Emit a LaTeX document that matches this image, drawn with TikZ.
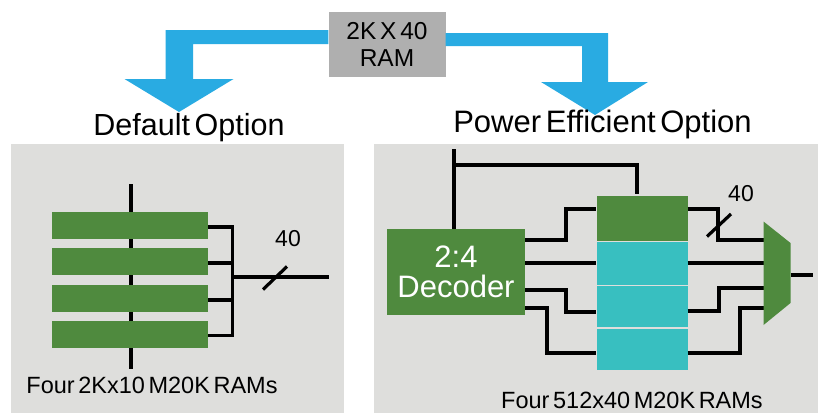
\documentclass[tikz,border=0pt]{standalone}
\usepackage{fontspec}
\setmainfont[WordSpace=0.55]{Liberation Sans}
\definecolor{panel}{HTML}{DEDEDC}
\definecolor{ramgreen}{HTML}{4F8A3E}
\definecolor{ramteal}{HTML}{38BFC0}
\definecolor{flow}{HTML}{29ABE2}
\definecolor{boxgray}{HTML}{AFAFAF}
\tikzset{
  panelbox/.style={fill=panel,draw=none,inner sep=0pt,anchor=north west},
  block/.style={fill=ramgreen,draw=none,inner sep=0pt},
  tealblock/.style={fill=ramteal,draw=none,inner sep=0pt},
  wire/.style={line width=3.2pt,black,line join=miter},
  lbl/.style={inner sep=0pt,text=black,align=center},
}
\begin{document}
\begin{tikzpicture}[x=1pt,y=-1pt]
\useasboundingbox (0,0) rectangle (818,413);
% panels
\node[panelbox,minimum width=333pt,minimum height=269pt] (pl) at (11,144) {};
\node[panelbox,minimum width=444pt,minimum height=269pt] (pr) at (374,144) {};
% source box and block arrows
\node[fill=boxgray,inner sep=0pt,minimum width=117pt,minimum height=65pt,font=\fontsize{24.5}{27}\selectfont,align=center] (src) at (387,44.5) {2K X 40\\RAM};
\fill[flow] (src.west |- 0,30) -- (165.5,30) -- (165.5,79) -- (124.5,79) -- (179,112) -- (233.5,79) -- (193,79) -- (193,44) -- (src.west |- 0,44) -- cycle;
\fill[flow] (src.east |- 0,33) -- (608,33) -- (608,82) -- (648,82) -- (595,115) -- (541,82) -- (582,82) -- (582,46) -- (src.east |- 0,46) -- cycle;
\node[lbl,font=\fontsize{30.5}{32}\selectfont] (tl) at (189,127.5) {Default Option};
\node[lbl,font=\fontsize{31}{32}\selectfont] (tr) at (602.5,124.5) {Power Efficient Option};
% left diagram
\coordinate (ltop) at (131,184);
\coordinate (lbot) at (131,369);
\draw[wire] (ltop) -- (lbot);
\node[block,minimum width=156pt,minimum height=27pt] (b1) at (130,225.5) {};
\node[block,minimum width=156pt,minimum height=27pt] (b2) at (130,261.5) {};
\node[block,minimum width=156pt,minimum height=27pt] (b3) at (130,298) {};
\node[block,minimum width=156pt,minimum height=27pt] (b4) at (130,334.5) {};
\coordinate (lout) at (329,277);
\draw[wire] (b1.east |- 0,227) -| (232.5,335.5) -- (b4.east |- 0,335.5);
\draw[wire] (b2.east |- 0,263) -- (232.5,263);
\draw[wire] (b3.east |- 0,300) -- (232.5,300);
\draw[wire] (232.5,277) -- (lout);
\coordinate (ls1) at (263,289.5);
\coordinate (ls2) at (287,266.5);
\draw[wire] (ls1) -- (ls2);
\node[lbl,font=\fontsize{23}{24}\selectfont] (l40) at (288,238.5) {40};
\node[lbl,font=\fontsize{23.5}{24}\selectfont] (lcap) at (152,385.5) {Four 2Kx10 M20K RAMs};
% right diagram
\node[block,minimum width=138pt,minimum height=86pt,text=white,font=\fontsize{31}{30}\selectfont,align=center] (dec) at (456,272) {2:4\\Decoder};
\node[block,minimum width=91pt,minimum height=45pt] (r1) at (642,218.5) {};
\node[tealblock,minimum width=91pt,minimum height=43pt] (r2) at (642,263) {};
\node[tealblock,minimum width=91pt,minimum height=41pt] (r3) at (642,306.5) {};
\node[tealblock,minimum width=91pt,minimum height=41pt] (r4) at (642,349) {};
\coordinate (rin) at (454,149);
\coordinate (rout) at (813,275);
\coordinate (muxw) at (763.5,273);
\coordinate (muxe) at (790.5,273);
\draw[wire] (rin) -- (dec.north -| rin);
\draw[wire] (rin |- 0,165) -| (637,194);
\draw[wire] (dec.east |- 0,240) -| (566,209) -- (r1.west |- 0,209);
\draw[wire] (dec.east |- 0,263) -- (r2.west |- 0,263);
\draw[wire] (dec.east |- 0,290) -| (566,312) -- (r3.west |- 0,312);
\draw[wire] (dec.east |- 0,308) -| (547,353) -- (r4.west |- 0,353);
\draw[wire] (r1.east |- 0,209) -| (718,240) -- (muxw |- 0,240);
\draw[wire] (r2.east |- 0,263) -- (muxw |- 0,263);
\draw[wire] (r3.east |- 0,311) -| (719,288) -- (muxw |- 0,288);
\draw[wire] (r4.east |- 0,353) -| (740,308) -- (muxw |- 0,308);
\draw[wire] (muxe |- rout) -- (rout);
\fill[ramgreen] (763.5,221.5) -- (790.5,243) -- (790.5,303) -- (763.5,325) -- cycle;
\coordinate (rs1) at (707,236.5);
\coordinate (rs2) at (731,214);
\draw[wire] (rs1) -- (rs2);
\node[lbl,font=\fontsize{23}{24}\selectfont] (r40) at (741,194) {40};
\node[lbl,font=\fontsize{23.5}{24}\selectfont] (rcap) at (632,400.5) {Four 512x40 M20K RAMs};
\end{tikzpicture}
\end{document}
